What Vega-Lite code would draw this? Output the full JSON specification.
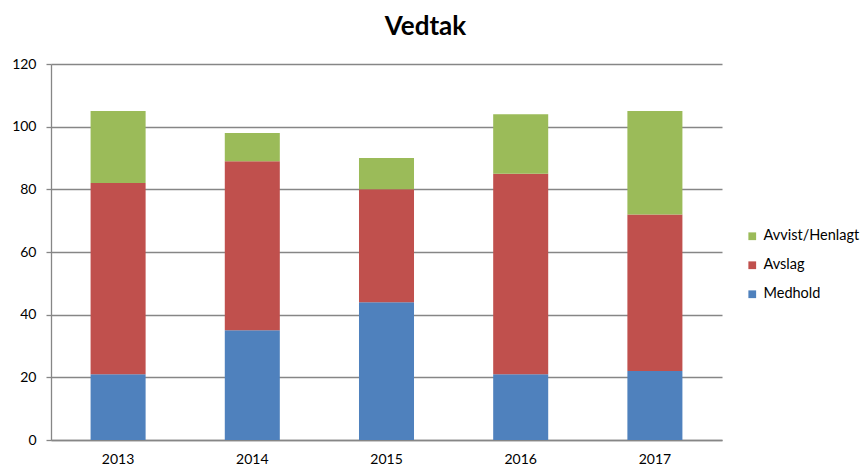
{
  "$schema": "https://vega.github.io/schema/vega-lite/v6.json",
  "width": 671,
  "height": 376,
  "autosize": {"type": "none"},
  "padding": {"left": 51, "top": 64, "right": 142, "bottom": 28},
  "background": "white",
  "title": {
    "text": "Vedtak",
    "font": "Lato",
    "fontSize": 26,
    "fontWeight": "bold",
    "color": "#000000",
    "anchor": "middle",
    "dx": 39,
    "offset": 17
  },
  "config": {
    "view": {"stroke": null},
    "font": "Lato"
  },
  "data": {
    "values": [
      {"year": "2013", "type": "Medhold", "k": 1, "value": 21},
      {"year": "2013", "type": "Avslag", "k": 2, "value": 61},
      {"year": "2013", "type": "Avvist/Henlagt", "k": 3, "value": 23},
      {"year": "2014", "type": "Medhold", "k": 1, "value": 35},
      {"year": "2014", "type": "Avslag", "k": 2, "value": 54},
      {"year": "2014", "type": "Avvist/Henlagt", "k": 3, "value": 9},
      {"year": "2015", "type": "Medhold", "k": 1, "value": 44},
      {"year": "2015", "type": "Avslag", "k": 2, "value": 36},
      {"year": "2015", "type": "Avvist/Henlagt", "k": 3, "value": 10},
      {"year": "2016", "type": "Medhold", "k": 1, "value": 21},
      {"year": "2016", "type": "Avslag", "k": 2, "value": 64},
      {"year": "2016", "type": "Avvist/Henlagt", "k": 3, "value": 19},
      {"year": "2017", "type": "Medhold", "k": 1, "value": 22},
      {"year": "2017", "type": "Avslag", "k": 2, "value": 50},
      {"year": "2017", "type": "Avvist/Henlagt", "k": 3, "value": 33}
    ]
  },
  "mark": {"type": "bar"},
  "encoding": {
    "x": {
      "field": "year",
      "type": "nominal",
      "scale": {"paddingInner": 0.59, "paddingOuter": 0.295},
      "axis": {
        "title": null,
        "labelAngle": 0,
        "labelFontSize": 14,
        "labelColor": "#000000",
        "labelPadding": 12,
        "ticks": false,
        "domainColor": "#868686",
        "domainWidth": 1.3,
        "grid": false
      }
    },
    "y": {
      "field": "value",
      "type": "quantitative",
      "aggregate": "sum",
      "stack": "zero",
      "scale": {"domain": [0, 120], "nice": false},
      "axis": {
        "title": null,
        "values": [0, 20, 40, 60, 80, 100, 120],
        "labelFontSize": 14,
        "labelColor": "#000000",
        "labelPadding": 10,
        "tickColor": "#868686",
        "tickSize": 5,
        "tickWidth": 1.3,
        "domainColor": "#868686",
        "domainWidth": 1.3,
        "gridColor": "#868686",
        "gridWidth": 1.3
      }
    },
    "color": {
      "field": "type",
      "type": "nominal",
      "scale": {
        "domain": ["Avvist/Henlagt", "Avslag", "Medhold"],
        "range": ["#9BBB59", "#C0504D", "#4F81BD"]
      },
      "legend": {
        "title": null,
        "orient": "none",
        "legendX": 694,
        "legendY": 165,
        "symbolType": "square",
        "symbolSize": 60,
        "symbolStrokeWidth": 0,
        "labelFontSize": 14.5,
        "labelColor": "#000000",
        "labelOffset": 4,
        "rowPadding": 14
      }
    },
    "order": {"field": "k", "type": "quantitative", "sort": "ascending"}
  }
}
